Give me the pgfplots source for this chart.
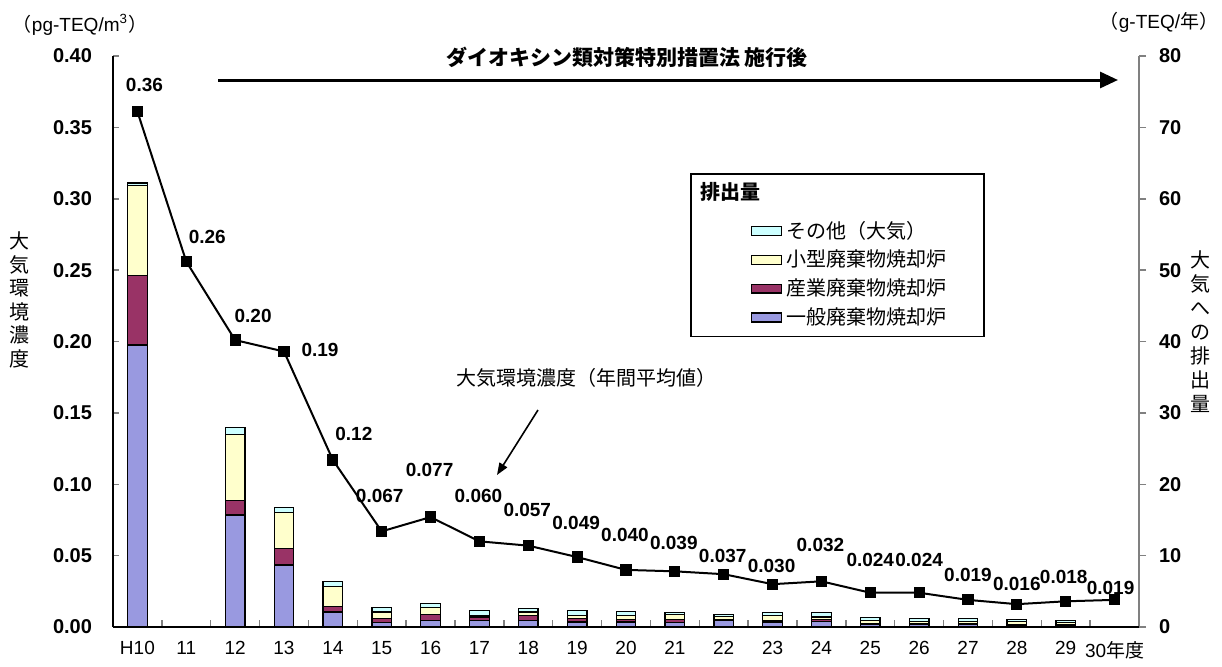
\documentclass[border=0pt]{standalone}
\usepackage{fontspec}
\setmainfont{Liberation Sans}
\newfontfamily\jp{Noto Sans CJK JP}
\usepackage{pgfplots}
\pgfplotsset{compat=1.18}
\usepackage{pgfplotstable}
\usetikzlibrary{arrows.meta}

\definecolor{ippanc}{HTML}{9999E0}
\definecolor{sangyoc}{HTML}{993366}
\definecolor{kogatac}{HTML}{FFFFCC}
\definecolor{sonotac}{HTML}{CCFFFF}

% emissions to air (g-TEQ/year), by source
\pgfplotstableread{
x ippan sangyo kogata sonota
0 39.5 9.7 12.7 0.3
2 15.7 2.0 9.3 0.9
3 8.7 2.3 5.0 0.7
4 2.1 0.8 2.8 0.7
5 0.6 0.6 0.9 0.6
6 0.9 0.8 1.0 0.6
7 0.9 0.5 0.2 0.7
8 0.9 0.7 0.5 0.5
9 0.7 0.5 0.4 0.7
10 0.7 0.4 0.5 0.6
11 0.6 0.5 0.6 0.3
12 0.9 0.1 0.5 0.3
13 0.7 0.2 0.7 0.4
14 0.8 0.3 0.3 0.6
15 0.3 0.2 0.4 0.4
16 0.3 0.2 0.3 0.4
17 0.3 0.2 0.3 0.4
18 0.2 0.2 0.4 0.3
19 0.2 0.2 0.2 0.35
}\emis

% ambient concentration (pg-TEQ/m3), label offsets in pt
\pgfplotstableread{
x y lbl dx dy
0 0.361 0.36 3.5 13.5
1 0.256 0.26 10.5 12.5
2 0.201 0.20 9 12
3 0.193 0.19 18 1
4 0.117 0.12 10.5 13
5 0.067 0.067 -1 17.5
6 0.077 0.077 -0.5 23.5
7 0.060 0.060 -0.5 22.5
8 0.057 0.057 -0.5 18
9 0.049 0.049 -0.5 17
10 0.040 0.040 -0.5 17.5
11 0.039 0.039 -0.5 14
12 0.037 0.037 -0.5 9
13 0.030 0.030 -0.5 9
14 0.032 0.032 -0.5 18
15 0.024 0.024 0 16.5
16 0.024 0.024 0 16.5
17 0.019 0.019 0 12.5
18 0.016 0.016 0 10
19 0.018 0.018 -1 12
20 0.019 0.019 -2 6
}\conc

\newcommand{\swatch}[1]{\path (0pt,0pt); \draw[fill=#1,draw=black,line width=0.8pt] (25pt,-2.2pt) rectangle (40pt,2.2pt);}

\begin{document}
\begin{tikzpicture}
\path[use as bounding box] (0,0) rectangle (611pt,333pt);

\begin{axis}[
    at={(56.5pt,19.5pt)}, anchor=south west,
    scale only axis, width=513pt, height=285.5pt,
    xmin=-0.5, xmax=20.5, ymin=0, ymax=80,
    axis x line=none, axis y line*=right,
    ybar stacked, bar width=0.4,
    ytick={0,10,...,80},
    tick align=outside, major tick length=3.5pt,
    y axis line style={draw=gray, line width=0.75pt},
    ytick style={draw=gray, line width=0.75pt},
    /pgf/number format/assume math mode=true,
    yticklabel style={font=\bfseries\fontsize{10}{12}\selectfont, xshift=3pt},
    legend style={at={(0.5624,0.7951)}, anchor=north west, draw=black,
        line width=0.8pt, fill=white, font=\jp\fontsize{10}{12}\selectfont,
        inner xsep=5pt, inner ysep=2.5pt, row sep=0.5pt},
    legend cell align=left,
    reverse legend,
]
\addplot[fill=ippanc, draw=black, line width=0.6pt,
    legend image code/.code={\swatch{ippanc}}] table[x=x,y=ippan]{\emis};
\addlegendentry{一般廃棄物焼却炉\hspace*{12pt}}
\addplot[fill=sangyoc, draw=black, line width=0.6pt,
    legend image code/.code={\swatch{sangyoc}}] table[x=x,y=sangyo]{\emis};
\addlegendentry{産業廃棄物焼却炉}
\addplot[fill=kogatac, draw=black, line width=0.6pt,
    legend image code/.code={\swatch{kogatac}}] table[x=x,y=kogata]{\emis};
\addlegendentry{小型廃棄物焼却炉}
\addplot[fill=sonotac, draw=black, line width=0.6pt,
    legend image code/.code={\swatch{sonotac}}] table[x=x,y=sonota]{\emis};
\addlegendentry{その他（大気）}
\addlegendimage{empty legend}
\addlegendentry{\makebox[0pt][l]{\hspace*{-43pt}\raisebox{4.5pt}{\bfseries 排出量}}}
\end{axis}

\begin{axis}[
    at={(56.5pt,19.5pt)}, anchor=south west,
    scale only axis, width=513pt, height=285.5pt,
    xmin=-0.5, xmax=20.5, ymin=0, ymax=0.4,
    axis x line*=bottom, axis y line*=left,
    axis line style={line width=0.75pt},
    clip=false,
    xtick={0,...,20},
    xticklabels={H10,11,12,13,14,15,16,17,18,19,20,21,22,23,24,25,26,27,28,29,{30{\jp 年度}}},
    major x tick style={draw=none},
    minor xtick={0.5,1.5,...,19.5},
    minor tick length=3.5pt,
    minor x tick style={line width=0.75pt},
    ytick={0,0.05,0.1,0.15,0.2,0.25,0.3,0.35,0.4},
    scaled y ticks=false,
    tick align=inside, major tick length=3pt,
    ytick style={line width=0.75pt},
    /pgf/number format/assume math mode=true,
    yticklabel style={/pgf/number format/fixed, /pgf/number format/fixed zerofill,
        /pgf/number format/precision=2, font=\bfseries\fontsize{10}{12}\selectfont, xshift=-7pt},
    xticklabel style={font=\fontsize{9.5}{11}\selectfont, yshift=-3.5pt},
]
\addplot[black, line width=1pt, mark=square*, mark size=2.3pt,
    mark options={solid, fill=black},
    nodes near coords, point meta=explicit symbolic,
    visualization depends on={\thisrow{dx} \as \dx},
    visualization depends on={\thisrow{dy} \as \dy},
    nodes near coords style={anchor=center, xshift=\dx, yshift=\dy,
        font=\bfseries\fontsize{9.5}{11}\selectfont, text=black}]
    table[x=x,y=y,meta=lbl]{\conc};
\end{axis}

% units
\node[font=\fontsize{9.5}{11}\selectfont] at (40pt,320.5pt) {{\jp （}pg-TEQ/m\textsuperscript{3}{\jp ）}};
\node[font=\fontsize{9.5}{11}\selectfont] at (579.5pt,322pt) {{\jp （}g-TEQ/{\jp 年）}};
% axis titles, stacked vertically
\node[align=center, inner sep=0pt, font=\jp\fontsize{10}{11.75}\selectfont] at (10pt,183pt) {大\\気\\環\\境\\濃\\度};
\node[align=center, inner sep=0pt, font=\jp\fontsize{10}{12}\selectfont] at (600pt,167pt) {大\\気\\へ\\の\\排\\出\\量};
% law in force
\node[font=\jp\bfseries\fontsize{10.5}{12}\selectfont] at (313.5pt,304.5pt) {ダイオキシン類対策特別措置法\ 施行後};
\draw[line width=1.5pt, -{Triangle[length=9pt,width=8pt]}] (109pt,293pt) -- (559pt,293pt);
% annotation
\node[font=\jp\fontsize{10}{12}\selectfont] at (293pt,144pt) {大気環境濃度（年間平均値）};
\draw[line width=0.8pt, -{Triangle[length=6pt,width=4.5pt]}] (269pt,128pt) -- (248.5pt,95.5pt);
\end{tikzpicture}
\end{document}
